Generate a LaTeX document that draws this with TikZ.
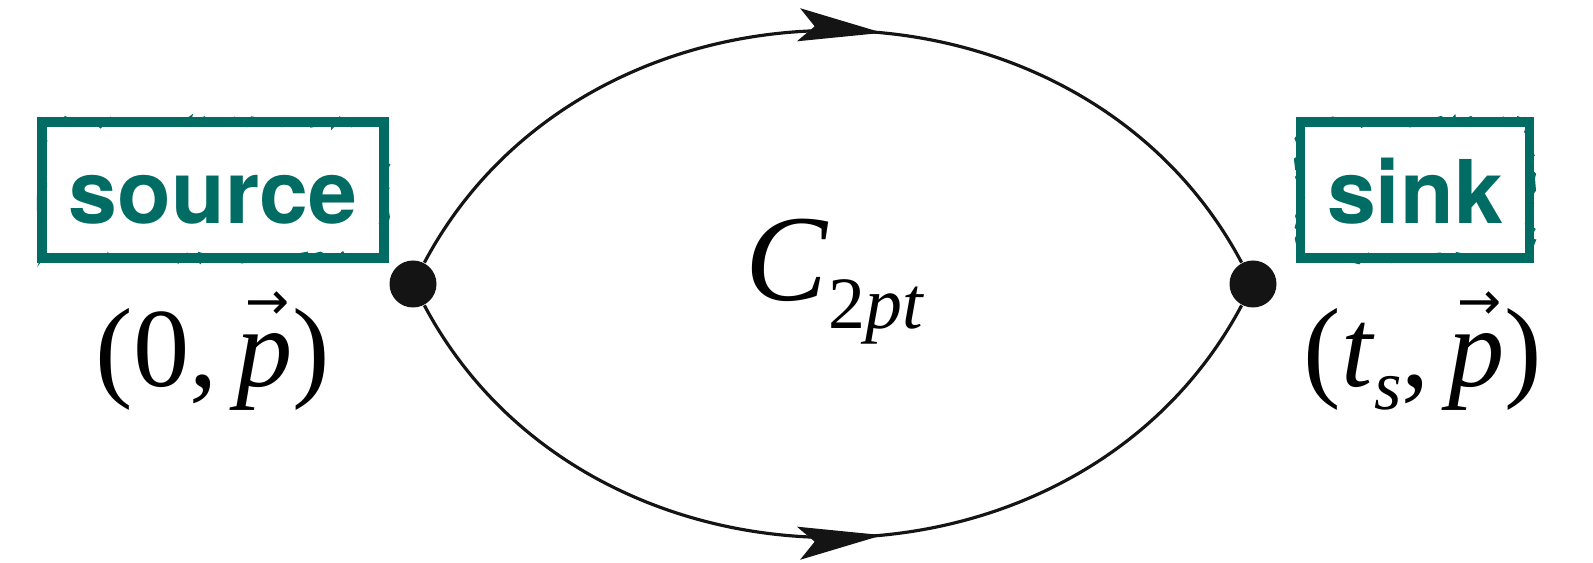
\documentclass[tikz,border=0pt]{standalone}
\usepackage{fontspec}
\setmainfont{Liberation Serif}
\newfontfamily\boxfont{TeX Gyre Heros}
\newfontfamily\arrowfont{DejaVu Sans}
\usetikzlibrary{arrows.meta, decorations.markings, decorations.pathmorphing}
\definecolor{boxteal}{RGB}{0,108,99}
\colorlet{linecol}{black!92}
\newcommand{\pvec}{\rlap{\kern0.08em\raisebox{0.6em}{\arrowfont\fontsize{15}{15}\selectfont →}}\textit{p}}
\tikzset{
  vertex/.style={circle, fill=linecol, inner sep=0pt, minimum size=0.47cm},
  tagbox/.style={draw=boxteal, line width=2.6pt, text=boxteal,
    font=\boxfont\bfseries\fontsize{25}{28}\selectfont,
    inner xsep=0.27cm, inner ysep=0.29cm, text height=0.73cm, text depth=0.05cm,
    postaction={draw=boxteal, line width=0.8pt, decorate,
      decoration={random steps, segment length=2pt, amplitude=1.4pt}}},
  coordlabel/.style={anchor=base, font=\fontsize{32}{36}\selectfont, inner sep=0pt},
  prop/.style={line width=0.9pt, draw=linecol, postaction={decorate},
    decoration={markings, mark=at position 0.55 with
      {\arrow{Stealth[length=0.84cm, width=0.33cm, inset=0.16cm]}}}}
}

\begin{document}
\begin{tikzpicture}
\useasboundingbox (0,0) rectangle (15.93,5.63);

% vertices
\node[vertex] (src) at (4.13,2.79) {};
\node[vertex] (snk) at (12.53,2.79) {};

% propagators
\draw[prop] (src) to[out=62, in=118, looseness=1.1] (snk);
\draw[prop] (src) to[out=-62, in=-118, looseness=1.1] (snk);

% source and sink tags
\node[tagbox] (srcbox) at (2.13,3.73) {source};
\node[tagbox] (snkbox) at (14.15,3.73) {sink};

% positions
\node[coordlabel] (srcpos) at (2.13,1.76) {(0,\,\pvec)};
\node[coordlabel] (snkpos) at (14.23,1.76)
  {(\textit{t}\raisebox{-0.23cm}{\fontsize{20}{20}\selectfont\textit{s}},\,\pvec)};

% correlator
\node[anchor=base, inner sep=0pt] (corr) at (8.35,2.62)
  {\fontsize{35}{40}\selectfont\textit{C}\raisebox{-0.28cm}{\fontsize{21}{21}\selectfont 2\textit{pt}}};
\end{tikzpicture}
\end{document}
